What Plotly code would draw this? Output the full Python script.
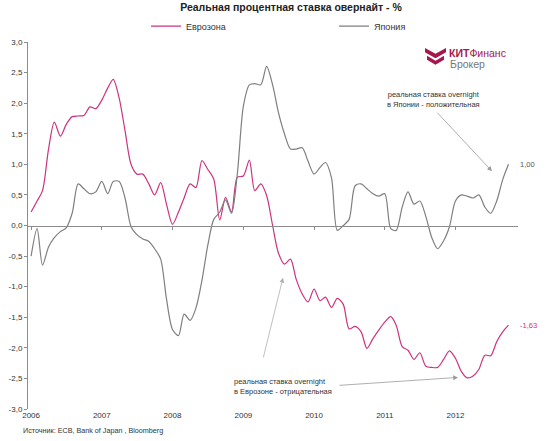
import plotly.graph_objects as go
import pandas as pd

# ---------------- data ----------------
eurozone = [0.22, 0.40, 0.57, 1.25, 1.69, 1.46, 1.65, 1.78, 1.79, 1.80, 1.94, 1.91,
            2.05, 2.25, 2.39, 2.08, 1.55, 1.00, 0.84, 0.84, 0.68, 0.50, 0.70, 0.35,
            0.02, 0.22, 0.45, 0.68, 0.62, 1.06, 0.92, 0.76, 0.09, 0.46, 0.22, 0.79,
            0.81, 1.07, 0.57, 0.68, 0.49, 0.00, -0.45, -0.63, -0.55, -0.88, -1.12, -1.25,
            -1.04, -1.23, -1.17, -1.34, -1.19, -1.29, -1.69, -1.65, -1.74, -2.01, -1.85, -1.71,
            -1.58, -1.49, -1.63, -1.98, -2.04, -2.19, -2.08, -2.30, -2.32, -2.32, -2.19, -2.05,
            -2.17, -2.39, -2.49, -2.46, -2.35, -2.12, -2.13, -1.90, -1.74, -1.63]
japan = [-0.50, -0.05, -0.65, -0.35, -0.20, -0.10, -0.04, 0.20, 0.68, 0.60, 0.52, 0.55,
         0.72, 0.52, 0.72, 0.72, 0.45, -0.02, -0.15, -0.22, -0.26, -0.38, -0.55, -1.20,
         -1.70, -1.80, -1.45, -1.55, -1.35, -0.90, -0.33, 0.10, 0.22, 0.42, 0.20, 0.85,
         1.95, 2.30, 2.32, 2.30, 2.60, 2.30, 1.85, 1.50, 1.25, 1.25, 1.27, 1.05,
         0.84, 0.95, 1.03, 0.78, -0.08, 0.00, 0.10, 0.65, 0.68, 0.60, 0.52, 0.48,
         0.52, -0.05, -0.08, 0.30, 0.55, 0.35, 0.40, 0.15, -0.20, -0.38, -0.25, -0.02,
         0.40, 0.50, 0.48, 0.45, 0.50, 0.30, 0.20, 0.40, 0.75, 1.00]
months = pd.date_range("2006-01-01", periods=len(eurozone), freq="MS")

year_ticks = ["2006-01-01", "2007-01-01", "2008-01-01", "2009-01-01",
              "2010-01-01", "2011-01-01", "2012-01-01"]
year_labels = ["2006", "2007", "2008", "2009", "2010", "2011", "2012"]
y_ticks = [3.0, 2.5, 2.0, 1.5, 1.0, 0.5, 0.0, -0.5, -1.0, -1.5, -2.0, -2.5, -3.0]
y_labels = ["3,0", "2,5", "2,0", "1,5", "1,0", "0,5", "0,0",
            "-0,5", "-1,0", "-1,5", "-2,0", "-2,5", "-3,0"]
x_range = ["2005-12-16", "2012-11-19"]

PINK = "#CC3380"
GRAY = "#7F7F7F"
AXIS = "#8C8C8C"
TXT = "#333333"
LOGO = "#A8164E"
FONT = "Arial, Liberation Sans, sans-serif"

W, H = 550, 441
ML, MR, MT, MB = 28, 32, 37, 32


def px(x):
    return (x - ML) / (W - ML - MR)


def py(y):
    return (H - MB - y) / (H - MT - MB)


fig = go.Figure()
fig.add_trace(go.Scatter(x=months, y=eurozone, name="Еврозона", mode="lines",
                         line=dict(color=PINK, width=1.2, shape="spline", smoothing=0.8)))
fig.add_trace(go.Scatter(x=months, y=japan, name="Япония", mode="lines",
                         line=dict(color=GRAY, width=1.2, shape="spline", smoothing=0.8)))
# helper trace so the zero-line axis (x2) is drawn
fig.add_trace(go.Scatter(x=[], y=[], xaxis="x2", showlegend=False, hoverinfo="skip"))

fig.update_layout(
    width=W, height=H,
    margin=dict(l=ML, r=MR, t=MT, b=MB),
    paper_bgcolor="white", plot_bgcolor="white",
    font=dict(family=FONT, size=8, color=TXT),
    title=dict(text="<b>Реальная процентная ставка овернайт - %</b>",
               x=291 / W, y=1 - 7 / H, xref="container", yref="container",
               xanchor="center", yanchor="middle",
               font=dict(size=10.5, color="#222222", family=FONT)),
    showlegend=True,
    legend=dict(orientation="h", x=px(146), y=py(21), xanchor="left", yanchor="middle",
                font=dict(size=9, color=TXT), entrywidth=143, entrywidthmode="pixels",
                bgcolor="rgba(0,0,0,0)"),
    xaxis=dict(type="date", range=x_range, tickvals=year_ticks, ticktext=year_labels,
               showline=False, ticks="", showgrid=False, zeroline=False,
               tickfont=dict(size=8, color=TXT), automargin=False),
    xaxis2=dict(type="date", range=x_range, overlaying="x", anchor="free", position=0.5,
                tickvals=year_ticks, showticklabels=False, showline=True, linecolor=AXIS,
                linewidth=1, ticks="outside", ticklen=3, tickcolor=AXIS, showgrid=False,
                zeroline=False),
    yaxis=dict(range=[-3, 3], tickvals=y_ticks, ticktext=y_labels, showline=True,
               linecolor=AXIS, linewidth=1, ticks="outside", ticklen=3, tickcolor=AXIS,
               showgrid=False, zeroline=False, tickfont=dict(size=8, color=TXT),
               automargin=False),
)

ann = []
# Japan note
ann.append(dict(text="реальная ставка overnight<br>в Японии - положительная",
                x=px(433), y=py(95), xref="paper", yref="paper", showarrow=False,
                align="center", xanchor="center", yanchor="middle",
                font=dict(size=7.5, color=TXT)))
ann.append(dict(text="", x=px(492), y=py(168), xref="paper", yref="paper",
                showarrow=True, ax=-56, ay=-60, arrowhead=2, arrowsize=1.2,
                arrowwidth=0.8, arrowcolor="#9A9A9A"))
# Eurozone note
ann.append(dict(text="реальная ставка overnight<br>в Еврозоне - отрицательная",
                x=px(232), y=py(386), xref="paper", yref="paper", showarrow=False,
                align="left", xanchor="left", yanchor="middle",
                font=dict(size=7.5, color=TXT)))
ann.append(dict(text="", x=px(458), y=py(377), xref="paper", yref="paper",
                showarrow=True, ax=-120, ay=8, arrowhead=2, arrowsize=1.2,
                arrowwidth=0.8, arrowcolor="#9A9A9A"))
ann.append(dict(text="", x=px(283), y=py(276), xref="paper", yref="paper",
                showarrow=True, ax=-20, ay=81, arrowhead=2, arrowsize=1.2,
                arrowwidth=0.8, arrowcolor="#B0B0B0"))
# end value labels
ann.append(dict(text="1,00", x=months[-1], y=japan[-1], xref="x", yref="y",
                showarrow=False, xanchor="left", yanchor="middle", xshift=9,
                font=dict(size=7.5, color="#555555")))
ann.append(dict(text="-1,63", x=months[-1], y=eurozone[-1], xref="x", yref="y",
                showarrow=False, xanchor="left", yanchor="middle", xshift=9,
                font=dict(size=7.5, color=PINK)))
# source
ann.append(dict(text="Источник: ECB, Bank of Japan , Bloomberg",
                x=px(21), y=py(431), xref="paper", yref="paper", showarrow=False,
                xanchor="left", yanchor="middle", font=dict(size=7.2, color=TXT)))
# logo text
ann.append(dict(text="<b>КИТ</b>Финанс", x=px(447), y=py(48), xref="paper", yref="paper",
                showarrow=False, xanchor="left", yanchor="middle",
                font=dict(size=10.5, color=LOGO)))
ann.append(dict(text="Брокер", x=px(448), y=py(59), xref="paper", yref="paper",
                showarrow=False, xanchor="left", yanchor="middle",
                font=dict(size=10.5, color="#777777")))
fig.update_layout(annotations=ann)


def chevron(x0, y0, w, h, t):
    pts = [(x0, y0), (x0 + w / 2, y0 + h), (x0 + w, y0), (x0 + w, y0 + t),
           (x0 + w / 2, y0 + h + t), (x0, y0 + t)]
    d = "M " + " L ".join(f"{px(a):.5f},{py(b):.5f}" for a, b in pts) + " Z"
    return dict(type="path", path=d, xref="paper", yref="paper",
                fillcolor=LOGO, line=dict(width=0))


fig.update_layout(shapes=[chevron(425, 43, 21, 6, 4.5), chevron(427, 51, 17, 5, 4)])

fig.write_html("out.html", config={"displayModeBar": False},
               post_script="document.body.style.margin='0';")
